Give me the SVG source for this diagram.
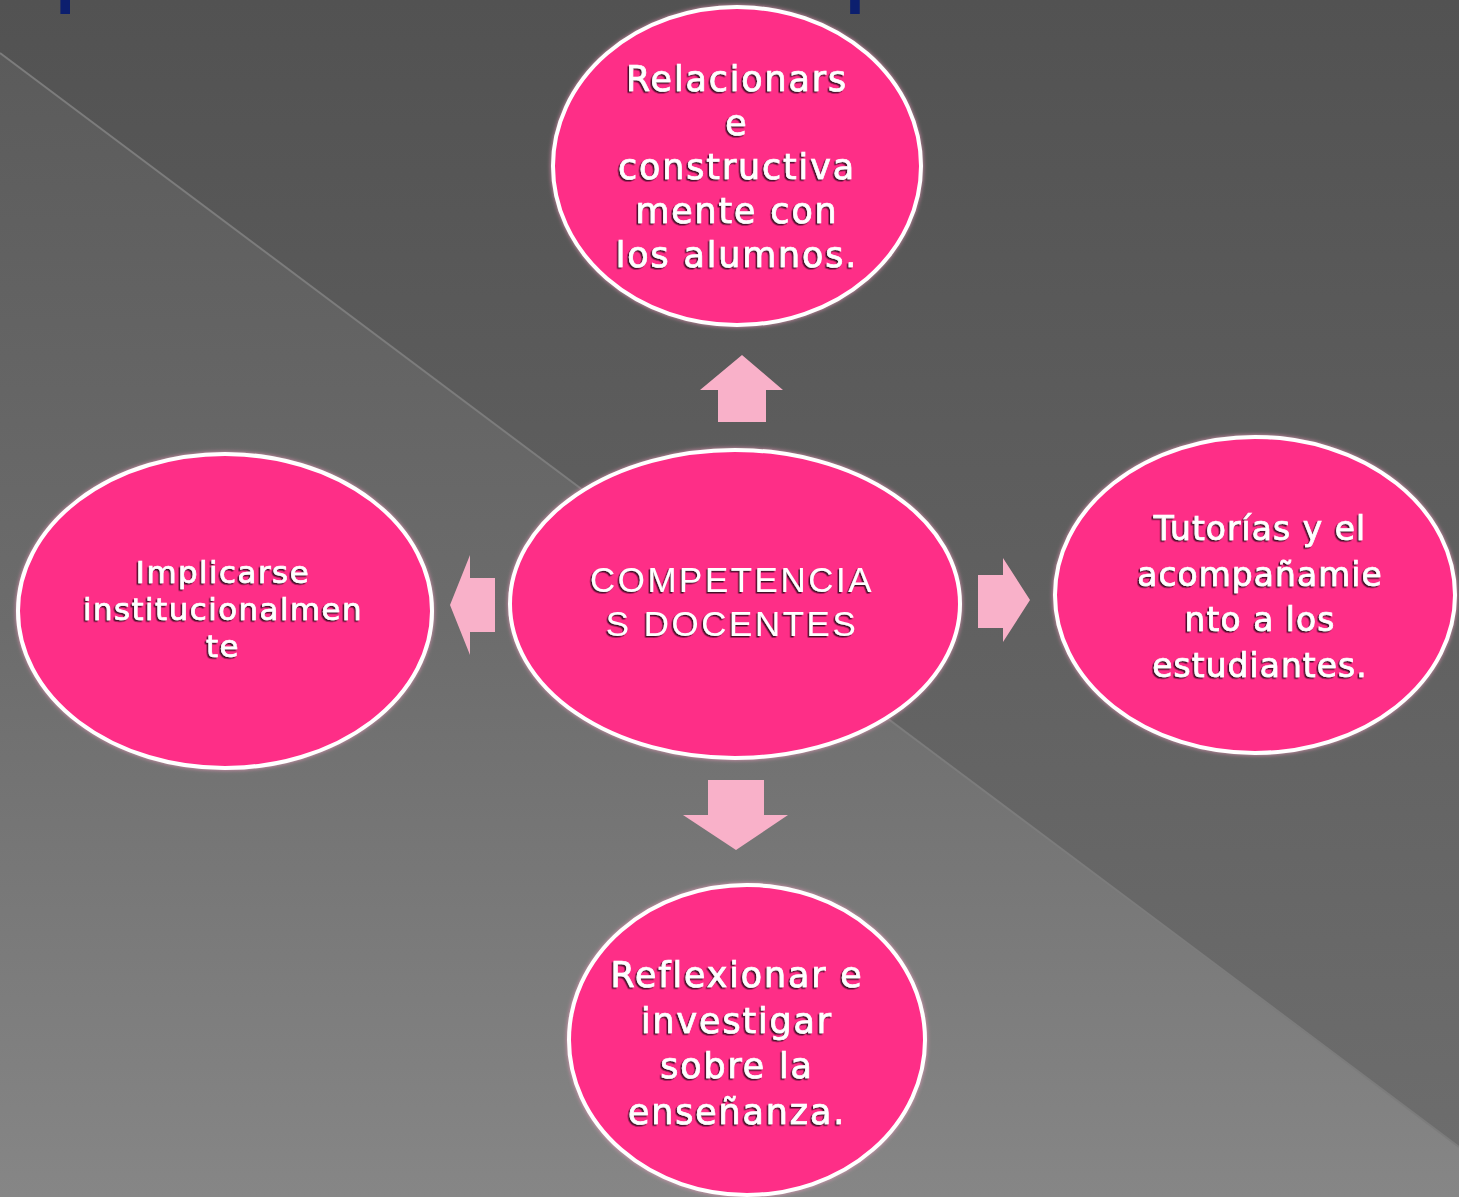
<svg xmlns="http://www.w3.org/2000/svg" width="1459" height="1197" viewBox="0 0 1459 1197">
  <defs>
    <linearGradient id="bgDark" x1="0" y1="0" x2="0" y2="1">
      <stop offset="0" stop-color="#525252"/>
      <stop offset="1" stop-color="#6e6e6e"/>
    </linearGradient>
    <linearGradient id="bgLight" x1="0" y1="0" x2="0" y2="1">
      <stop offset="0" stop-color="#5b5b5b"/>
      <stop offset="0.5" stop-color="#6c6c6c"/>
      <stop offset="1" stop-color="#868686"/>
    </linearGradient>
    <filter id="txtShadow" x="-10%" y="-30%" width="120%" height="160%">
      <feDropShadow dx="-1.5" dy="1.5" stdDeviation="0.6" flood-color="#3a0a24" flood-opacity="0.95"/>
    </filter>
    <filter id="glow" x="-10%" y="-10%" width="120%" height="120%">
      <feDropShadow dx="0" dy="0" stdDeviation="2" flood-color="#ff9cc4" flood-opacity="0.8"/>
    </filter>
  </defs>
  <style>
    .node ellipse { fill: #fe2e87; stroke: #ffffff; stroke-width: 4; filter: url(#glow); }
    .lbl { font-family: "DejaVu Sans", "Liberation Sans", sans-serif; fill: #ffffff; text-anchor: middle; filter: url(#txtShadow); }
    .outer { font-size: 35px; letter-spacing: 1.8px; stroke: #ffffff; stroke-width: 0.7px; }
    .rt { font-size: 33px; letter-spacing: 1px; stroke: #ffffff; stroke-width: 0.7px; }
    .small { font-size: 31px; letter-spacing: 1.4px; stroke: #ffffff; stroke-width: 0.7px; }
    .center { font-size: 35px; letter-spacing: 2.5px; font-family: "Liberation Sans", "DejaVu Sans", sans-serif; }
    .arrow { fill: #f9b1c9; }
    .title { font-family: "Liberation Sans", Arial, sans-serif; font-weight: bold; font-size: 70px; fill: #0c1f6e; }
  </style>

  <!-- background -->
  <rect x="0" y="0" width="1459" height="1197" fill="url(#bgDark)"/>
  <polygon points="0,53 1459,1147 1459,1197 0,1197" fill="url(#bgLight)"/>
  <line x1="0" y1="53" x2="1459" y2="1147" stroke="#7c7c7c" stroke-width="2"/>

  <!-- title (cut off at top edge, as in the picture) -->
  <text class="title" x="-100" y="-1">Competencias docentes del profesor universitario</text>

  <g id="connectors">
    <polygon id="arrow-up" class="arrow" points="742,355 783,390 766,390 766,422 718,422 718,390 700,390"/>
    <polygon id="arrow-down" class="arrow" points="708,780 764,780 764,815 788,815 736,850 683,815 708,815"/>
    <polygon id="arrow-right" class="arrow" points="978,575 1003,575 1003,558 1030,600 1003,642 1003,628 978,628"/>
    <polygon id="arrow-left" class="arrow" points="495,578 495,632 470,632 470,655 450,605 470,555 470,578"/>
  </g>

  <g id="node-top" class="node">
    <ellipse cx="737" cy="166" rx="184" ry="159"/>
    <text class="lbl outer" x="737" y="91">Relacionars</text>
    <text class="lbl outer" x="737" y="135">e</text>
    <text class="lbl outer" x="737" y="179">constructiva</text>
    <text class="lbl outer" x="737" y="223">mente con</text>
    <text class="lbl outer" x="737" y="267">los alumnos.</text>
  </g>

  <g id="node-center" class="node">
    <ellipse cx="735" cy="604" rx="225" ry="154"/>
    <text class="lbl center" x="732" y="592">COMPETENCIA</text>
    <text class="lbl center" x="732" y="636">S DOCENTES</text>
  </g>

  <g id="node-left" class="node">
    <ellipse cx="225" cy="611" rx="207" ry="157"/>
    <text class="lbl small" x="223" y="583">Implicarse</text>
    <text class="lbl small" x="223" y="620">institucionalmen</text>
    <text class="lbl small" x="223" y="657">te</text>
  </g>

  <g id="node-right" class="node">
    <ellipse cx="1255" cy="595" rx="200" ry="158"/>
    <text class="lbl rt" x="1260" y="540">Tutorías y el</text>
    <text class="lbl rt" x="1260" y="586">acompañamie</text>
    <text class="lbl rt" x="1260" y="631">nto a los</text>
    <text class="lbl rt" x="1260" y="677">estudiantes.</text>
  </g>

  <g id="node-bottom" class="node">
    <ellipse cx="747" cy="1040" rx="178" ry="155"/>
    <text class="lbl outer" x="737" y="987">Reflexionar e</text>
    <text class="lbl outer" x="737" y="1033">investigar</text>
    <text class="lbl outer" x="737" y="1078">sobre la</text>
    <text class="lbl outer" x="737" y="1124">enseñanza.</text>
  </g>
</svg>
